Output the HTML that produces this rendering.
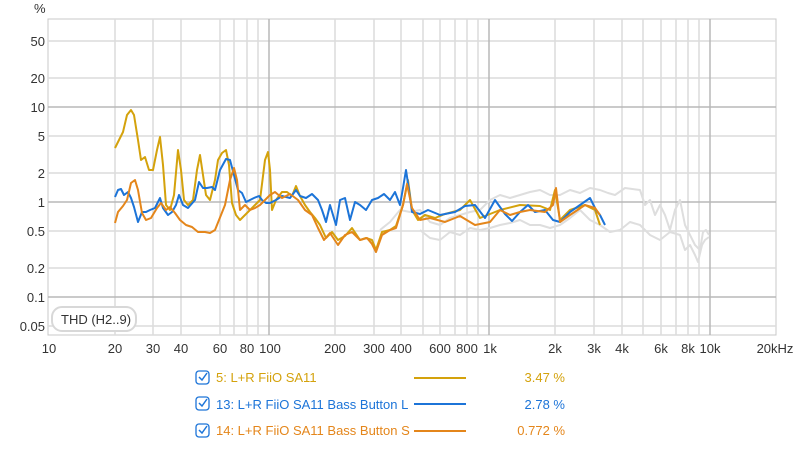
<!DOCTYPE html>
<html><head><meta charset="utf-8"><style>
body{margin:0;background:#fff;width:800px;height:445px;overflow:hidden;font-family:"Liberation Sans",sans-serif}
svg text{font-family:"Liberation Sans",sans-serif}
</style></head><body>
<svg width="800" height="445" viewBox="0 0 800 445" xmlns="http://www.w3.org/2000/svg">
<rect x="48" y="19" width="728" height="316" fill="#fff" stroke="#c8c8c8"/>
<g stroke="#dcdcdc" stroke-width="1.5">
<line x1="48" x2="776" y1="41" y2="41"/><line x1="48" x2="776" y1="78" y2="78"/><line x1="48" x2="776" y1="136" y2="136"/><line x1="48" x2="776" y1="173" y2="173"/><line x1="48" x2="776" y1="231" y2="231"/><line x1="48" x2="776" y1="268" y2="268"/><line x1="48" x2="776" y1="326" y2="326"/>
<line x1="115" x2="115" y1="19" y2="335"/><line x1="153" x2="153" y1="19" y2="335"/><line x1="181" x2="181" y1="19" y2="335"/><line x1="220" x2="220" y1="19" y2="335"/><line x1="234" x2="234" y1="19" y2="335"/><line x1="247" x2="247" y1="19" y2="335"/><line x1="258" x2="258" y1="19" y2="335"/>
<line x1="335" x2="335" y1="19" y2="335"/><line x1="374" x2="374" y1="19" y2="335"/><line x1="401" x2="401" y1="19" y2="335"/><line x1="423" x2="423" y1="19" y2="335"/><line x1="440" x2="440" y1="19" y2="335"/><line x1="455" x2="455" y1="19" y2="335"/><line x1="467" x2="467" y1="19" y2="335"/><line x1="478" x2="478" y1="19" y2="335"/>
<line x1="555" x2="555" y1="19" y2="335"/><line x1="594" x2="594" y1="19" y2="335"/><line x1="622" x2="622" y1="19" y2="335"/><line x1="643" x2="643" y1="19" y2="335"/><line x1="661" x2="661" y1="19" y2="335"/><line x1="676" x2="676" y1="19" y2="335"/><line x1="688" x2="688" y1="19" y2="335"/><line x1="699" x2="699" y1="19" y2="335"/>
</g>
<g stroke="#b8b8b8" stroke-width="1.5">
<line x1="48" x2="776" y1="107" y2="107"/><line x1="48" x2="776" y1="202" y2="202"/><line x1="48" x2="776" y1="297" y2="297"/>
<line x1="269" x2="269" y1="19" y2="335"/><line x1="489" x2="489" y1="19" y2="335"/><line x1="710" x2="710" y1="19" y2="335"/>
</g>
<g fill="none" stroke-width="2" stroke-linejoin="round">
<polyline stroke="#dedede" points="380,230 390,222 400,210 410,212 420,210 430,222 440,225 450,218 460,215 470,212 480,210 490,200 500,195 510,198 520,195 530,192 540,190 550,195 560,195 570,190 580,193 590,188 600,190 608,193 615,195 625,188 640,190 645,205 650,200 655,215 660,205 665,215 670,230 675,210 680,200 685,225 690,235 695,245 700,250 703,232 706,230 709,235"/>
<polyline stroke="#dedede" points="420,230 430,238 440,240 450,232 460,235 470,228 480,230 490,228 500,225 510,223 520,220 530,225 540,225 550,228 560,225 570,218 580,210 590,220 600,225 610,232 620,230 630,222 640,225 650,235 660,240 670,232 680,235 685,250 690,245 695,255 698,262 702,245 705,240 709,237"/>
<polyline stroke="#d4a20c" points="115,148 120,138 123,132 127,115 131,110 134,115 138,140 141,160 145,157 149,170 153,170 157,150 160,137 163,165 166,205 170,210 174,195 178,150 181,170 184,200 188,205 193,200 197,170 200,155 203,175 206,195 210,200 215,180 218,160 222,153 226,150 229,165 232,203 236,215 240,220 245,215 250,210 255,205 260,200 265,160 268,152 270,170 272,210 276,200 282,192 287,192 292,196 296,186 300,196 305,205 310,212 315,218 320,225 326,238 332,232 338,240 345,236 352,228 360,240 366,238 372,240 376,250 382,232 390,230 396,226 403,205 408,180 412,210 418,220 425,215 435,218 445,214 460,210 470,200 480,218 500,210 520,205 540,206 550,210 555,190 560,220 570,210 585,205 595,210 600,225"/>
<polyline stroke="#1c74d8" points="115,197 118,190 121,189 124,195 128,192 131,198 134,207 138,222 142,212 146,212 150,210 155,208 160,198 163,208 168,215 172,212 176,205 179,195 183,205 188,208 195,200 199,182 203,188 207,188 212,187 215,190 220,170 226,159 230,160 234,175 238,190 242,193 246,202 250,200 254,198 259,196 262,200 266,203 270,203 276,200 282,196 290,198 296,190 300,196 306,198 312,194 318,200 322,210 326,222 330,205 336,225 340,200 345,198 350,220 355,202 360,205 366,210 372,200 378,198 384,194 390,200 395,192 400,205 403,188 406,170 409,190 412,212 420,214 428,210 440,215 455,212 465,206 475,205 485,218 495,200 505,214 512,221 520,212 528,205 535,212 545,210 553,220 560,222 570,212 580,205 590,198 596,210 600,215 605,225"/>
<polyline stroke="#e4861b" points="115,223 118,212 123,206 127,200 131,183 135,180 138,190 142,213 146,220 151,218 157,208 161,203 166,210 170,207 175,213 180,220 186,225 192,227 198,232 205,232 210,233 215,230 219,220 225,205 230,180 234,168 237,180 240,210 245,205 250,210 255,208 260,205 265,200 270,195 275,192 282,198 290,194 298,200 305,210 312,215 318,228 324,240 330,233 338,245 345,235 352,232 360,240 367,238 372,244 376,252 382,235 390,230 396,228 403,205 407,184 412,208 420,220 430,218 445,222 460,216 475,225 490,222 500,210 510,215 520,212 530,210 545,212 553,205 556,188 560,222 570,215 585,205 595,208 600,215"/>
</g>
<g font-size="13" fill="#333" text-anchor="end">
<text x="45" y="46">50</text><text x="45" y="83">20</text><text x="45" y="112">10</text><text x="45" y="141">5</text><text x="45" y="178">2</text><text x="45" y="207">1</text><text x="45" y="236">0.5</text><text x="45" y="273">0.2</text><text x="45" y="302">0.1</text><text x="45" y="331">0.05</text>
</g>
<text x="34" y="13" font-size="13" fill="#333">%</text>
<g font-size="13" fill="#333" text-anchor="middle">
<text x="49" y="353">10</text><text x="115" y="353">20</text><text x="153" y="353">30</text><text x="181" y="353">40</text><text x="220" y="353">60</text><text x="247" y="353">80</text><text x="270" y="353">100</text><text x="335" y="353">200</text><text x="374" y="353">300</text><text x="401" y="353">400</text><text x="440" y="353">600</text><text x="467" y="353">800</text><text x="490" y="353">1k</text><text x="555" y="353">2k</text><text x="594" y="353">3k</text><text x="622" y="353">4k</text><text x="661" y="353">6k</text><text x="688" y="353">8k</text><text x="710" y="353">10k</text><text x="775" y="353">20kHz</text>
</g>
<rect x="52" y="307" width="84" height="24" rx="10" fill="#fff" stroke="#d8d8d8" stroke-width="2"/>
<text x="61" y="324" font-size="13" fill="#333">THD (H2..9)</text>
<g font-size="13">
<rect x="196" y="371" width="13" height="13" rx="3" fill="#fff" stroke="#1c74d8" stroke-width="1.3"/><path d="M199,377 l3,3 l5,-7" stroke="#1c74d8" stroke-width="1.5" fill="none"/>
<text x="216" y="382" fill="#d4a20c">5: L+R FiiO SA11</text><line x1="414" x2="466" y1="378" y2="378" stroke="#d4a20c" stroke-width="2"/><text x="565" y="382" fill="#d4a20c" text-anchor="end">3.47 %</text>
<rect x="196" y="397" width="13" height="13" rx="3" fill="#fff" stroke="#1c74d8" stroke-width="1.3"/><path d="M199,403 l3,3 l5,-7" stroke="#1c74d8" stroke-width="1.5" fill="none"/>
<text x="216" y="409" fill="#1c74d8">13: L+R FiiO SA11 Bass Button L</text><line x1="414" x2="466" y1="404" y2="404" stroke="#1c74d8" stroke-width="2"/><text x="565" y="409" fill="#1c74d8" text-anchor="end">2.78 %</text>
<rect x="196" y="424" width="13" height="13" rx="3" fill="#fff" stroke="#1c74d8" stroke-width="1.3"/><path d="M199,430 l3,3 l5,-7" stroke="#1c74d8" stroke-width="1.5" fill="none"/>
<text x="216" y="435" fill="#e4861b">14: L+R FiiO SA11 Bass Button  S</text><rect x="410" y="420" width="4" height="20" fill="#fff"/><line x1="414" x2="466" y1="431" y2="431" stroke="#e4861b" stroke-width="2"/><text x="565" y="435" fill="#e4861b" text-anchor="end">0.772 %</text>
</g>
</svg>
</body></html>
